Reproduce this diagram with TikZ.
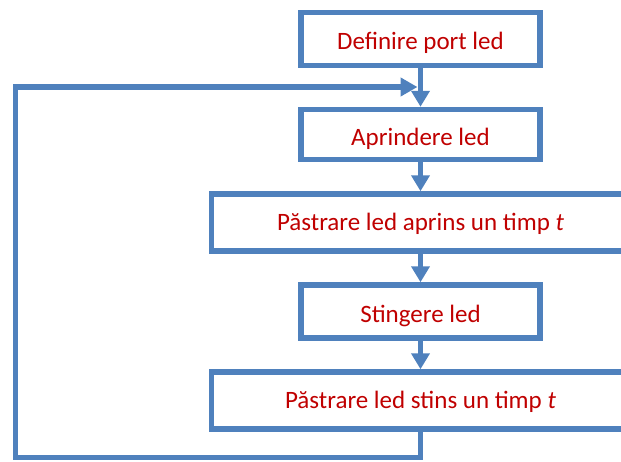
\documentclass[tikz,border=0pt]{standalone}
\usepackage{fontspec}
\setmainfont{Carlito}
\usetikzlibrary{arrows.meta}
\definecolor{flowblue}{HTML}{4F81BD}
\definecolor{flowred}{HTML}{C00000}
\begin{document}
\begin{tikzpicture}[x=1pt,y=-1pt,
  flowbox/.style={draw=flowblue, line width=5.5pt, rectangle, fill=white,
    text=flowred, font=\fontsize{25}{30}\selectfont, inner sep=0pt,
    text height=21.5pt, text depth=0pt},
  widebox/.style={flowbox, minimum width=418pt, minimum height=57pt,
    text height=15pt},
  flowarrow/.style={draw=flowblue, line width=5.5pt,
    -{Triangle[width=18pt,length=16pt]}},
  flowline/.style={draw=flowblue, line width=5.5pt, line join=miter}]
\useasboundingbox (0,0) rectangle (621,461);
% process boxes
\node[flowbox, minimum width=239pt, minimum height=53pt] (b1) at (420.5,39) {Definire port led};
\node[flowbox, minimum width=239pt, minimum height=50pt] (b2) at (420.5,134.5) {Aprindere led};
\node[widebox] (b3) at (420.5,222.5) {Păstrare led aprins un timp \textit{t}};
\node[flowbox, minimum width=239pt, minimum height=53pt] (b4) at (420.5,311.5) {Stingere led};
\node[widebox] (b5) at (420.5,400.5) {Păstrare led stins un timp \textit{t}};
% forward arrows
\draw[flowarrow] (b1.south) -- (b2.north);
\draw[flowarrow] (b2.south) -- (b3.north);
\draw[flowarrow] (b3.south) -- (b4.north);
\draw[flowarrow] (b4.south) -- (b5.north);
% return loop
\coordinate (leftbot) at (15.5,457.5);
\coordinate (lefttop) at (15.5,87);
\coordinate (ret) at (417.5,87);
\draw[flowline, -{Triangle[width=18pt,length=17pt]}]
  (b5.south) -- (b5.south |- leftbot) -- (leftbot) -- (lefttop) -- (ret);
\end{tikzpicture}
\end{document}
